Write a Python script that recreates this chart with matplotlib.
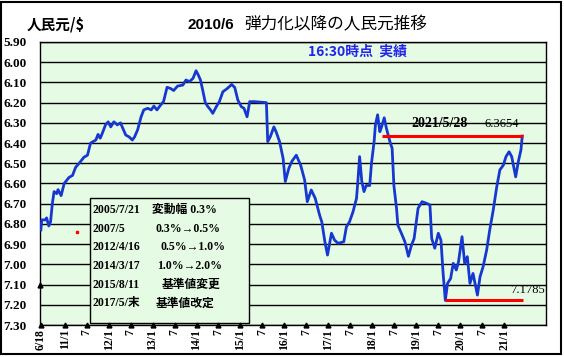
import matplotlib.pyplot as plt
from matplotlib.patches import Rectangle

# 人民元/$ rate (x = decimal year)
years = [2010.46, 2010.48, 2010.56, 2010.59, 2010.64, 2010.68, 2010.72, 2010.76, 2010.82, 2010.85,
         2010.92, 2010.99, 2011.10, 2011.18, 2011.25, 2011.33, 2011.44, 2011.52, 2011.59, 2011.71,
         2011.76, 2011.81, 2011.86, 2011.93, 2011.99, 2012.05, 2012.12, 2012.20, 2012.27, 2012.39,
         2012.47, 2012.54, 2012.59, 2012.66, 2012.74, 2012.80, 2012.89, 2012.97, 2013.03, 2013.10,
         2013.19, 2013.25, 2013.33, 2013.41, 2013.48, 2013.57, 2013.69, 2013.76, 2013.84, 2013.92,
         2013.99, 2014.04, 2014.09, 2014.14, 2014.20, 2014.26, 2014.32, 2014.37, 2014.45, 2014.52,
         2014.60, 2014.70, 2014.80, 2014.87, 2014.94, 2015.02, 2015.08, 2015.15, 2015.21, 2015.32,
         2015.47, 2015.59, 2015.62, 2015.68, 2015.76, 2015.81, 2015.89, 2015.97, 2016.02, 2016.10,
         2016.17, 2016.27, 2016.37, 2016.46, 2016.52, 2016.61, 2016.70, 2016.80, 2016.85, 2016.92,
         2016.98, 2017.07, 2017.14, 2017.22, 2017.35, 2017.41, 2017.48, 2017.56, 2017.64, 2017.67,
         2017.71, 2017.76, 2017.81, 2017.86, 2017.94, 2017.98, 2018.04, 2018.07, 2018.12, 2018.17,
         2018.21, 2018.27, 2018.32, 2018.40, 2018.45, 2018.49, 2018.55, 2018.58, 2018.66, 2018.74,
         2018.82, 2018.89, 2018.95, 2019.04, 2019.13, 2019.23, 2019.31, 2019.35, 2019.42, 2019.50,
         2019.56, 2019.61, 2019.66, 2019.71, 2019.78, 2019.84, 2019.91, 2019.96, 2020.04, 2020.10,
         2020.16, 2020.22, 2020.29, 2020.39, 2020.45, 2020.52, 2020.60, 2020.67, 2020.75, 2020.83,
         2020.90, 2020.98, 2021.04, 2021.11, 2021.17, 2021.26, 2021.32, 2021.38, 2021.41]
rates = [6.83, 6.78, 6.78, 6.77, 6.81, 6.79, 6.70, 6.64, 6.65, 6.63,
         6.66, 6.60, 6.57, 6.56, 6.52, 6.50, 6.47, 6.46, 6.40, 6.385,
         6.357, 6.376, 6.35, 6.31, 6.295, 6.32, 6.295, 6.31, 6.30, 6.36,
         6.37, 6.385, 6.37, 6.335, 6.27, 6.236, 6.228, 6.236, 6.217, 6.236,
         6.21, 6.195, 6.124, 6.13, 6.14, 6.118, 6.113, 6.088, 6.096, 6.08,
         6.042, 6.063, 6.088, 6.137, 6.20, 6.22, 6.236, 6.253, 6.22, 6.195,
         6.146, 6.13, 6.11, 6.125, 6.187, 6.22, 6.228, 6.27, 6.195, 6.195,
         6.198, 6.20, 6.393, 6.368, 6.32, 6.344, 6.393, 6.476, 6.59, 6.525,
         6.49, 6.46, 6.51, 6.583, 6.69, 6.632, 6.673, 6.756, 6.79, 6.888,
         6.954, 6.846, 6.88, 6.896, 6.888, 6.814, 6.79, 6.74, 6.673, 6.59,
         6.467, 6.59, 6.64, 6.61, 6.61, 6.50, 6.393, 6.31, 6.26, 6.344,
         6.32, 6.275, 6.327, 6.393, 6.426, 6.61, 6.723, 6.806, 6.846, 6.888,
         6.96, 6.905, 6.872, 6.723, 6.69, 6.698, 6.706, 6.872, 6.92, 6.846,
         6.88, 7.045, 7.1785, 7.094, 7.07, 6.995, 7.028, 6.987, 6.863, 6.995,
         6.962, 7.094, 7.045, 7.152, 7.061, 7.011, 6.929, 6.83, 6.731, 6.616,
         6.533, 6.509, 6.467, 6.443, 6.467, 6.567, 6.492, 6.434, 6.3654]

tick_pos = [2010.46, 2011.0, 2011.5, 2012.0, 2012.5, 2013.0, 2013.5, 2014.0, 2014.5, 2015.0, 2015.5,
            2016.0, 2016.5, 2017.0, 2017.5, 2018.0, 2018.5, 2019.0, 2019.5, 2020.0, 2020.5, 2021.0]
tick_labels = ['6/18', '11/1', '7', '12/1', '7', '13/1', '7', '14/1', '7', '15/1', '7',
               '16/1', '7', '17/1', '7', '18/1', '7', '19/1', '7', '20/1', '7', '21/1']
y_ticks = [5.90, 6.00, 6.10, 6.20, 6.30, 6.40, 6.50, 6.60, 6.70, 6.80, 6.90, 7.00, 7.10, 7.20, 7.30]

latest_date = '2021/5/28'
latest_rate = 6.3654
latest_start = 2018.21
low_rate = 7.1785
low_start = 2019.66
end_year = 2021.42

box_dates = ['2005/7/21', '2007/5', '2012/4/16', '2014/3/17', '2015/8/11', '2017/5/末']
box_notes = ['変動幅 0.3%', '0.3%→0.5%', '0.5%→1.0%', '1.0%→2.0%', '基準値変更', '基準値改定']
note_x = [151.7, 155.7, 160.7, 156.7, 161.7, 155.7]

bg = '#e6fbe4'
serif = ['Liberation Serif', 'Noto Sans CJK JP']
W, H = 564, 357

fig = plt.figure(figsize=(5.64, 3.57), dpi=100)
ax = fig.add_axes([40 / W, 32 / H, 506 / W, 283 / H])
ax.set_facecolor(bg)

ax.plot(years, rates, color='#1638d0', lw=2.0, zorder=4)
ax.hlines(latest_rate, latest_start, end_year, color='red', lw=2.2, zorder=5)
ax.hlines(low_rate, low_start, end_year, color='red', lw=2.2, zorder=5)

ax.set_xlim(2010.44, 2021.95)
ax.set_ylim(7.30, 5.90)
ax.set_yticks(y_ticks)
ax.set_yticklabels(['%.2f' % v for v in y_ticks], family='Liberation Serif',
                   fontweight='bold', fontsize=9.5)
ax.set_xticks(tick_pos)
ax.set_xticklabels(tick_labels, rotation=90, family='Liberation Serif',
                   fontweight='bold', fontsize=8.5)
ax.tick_params(axis='y', length=0, pad=9.5)
ax.tick_params(axis='x', length=0, pad=3)
ax.grid(axis='y', color='black', lw=1)
ax.set_axisbelow(True)
for s in ax.spines.values():
    s.set_color('black')
    s.set_linewidth(1)

# triangle markers on the bottom axis
ax.plot(tick_pos, [7.30] * len(tick_pos), '^', color='black', ms=3.5, clip_on=False, zorder=6)
ax.plot([2010.44], [7.10], '^', color='black', ms=3.5, clip_on=False, zorder=6)
ax.plot([2011.28], [6.84], 's', color='red', ms=1.5, zorder=6)

ax.text(2019.53, 6.335, latest_date, family='Liberation Serif', fontweight='bold',
        fontsize=10, ha='center', va='bottom', zorder=6)
ax.text(2020.95, 6.335, '%.4f' % latest_rate, family='Liberation Serif',
        fontsize=9, ha='center', va='bottom', zorder=6)
ax.text(2021.52, 7.125, '%.4f' % low_rate, family='Liberation Serif',
        fontsize=9, ha='center', va='center', zorder=6)

# note box
ax.add_patch(Rectangle((49.7 / 506, 1.7 / 283), 159.6 / 506, 125 / 283,
                       transform=ax.transAxes, fc=bg, ec='black', lw=1, zorder=5))
line_y = [210, 229, 247.3, 266, 285, 303.3]
for d, n, nx, py in zip(box_dates, box_notes, note_x, line_y):
    fig.text(92.3 / W, 1 - py / H, d, family=serif, fontweight='bold', fontsize=8.5,
             va='center', zorder=7)
    fig.text(nx / W, 1 - py / H, n, family=serif, fontweight='bold', fontsize=8.5,
             va='center', zorder=7)

# titles
fig.text(27 / W, 1 - 25 / H, '人民元/$', family=['Noto Sans CJK JP', 'DejaVu Sans'],
         fontweight='bold', fontsize=10.5, va='center')
fig.text(188 / W, 1 - 25 / H, '2010/6', family='Liberation Sans', fontweight='bold',
         fontsize=11, va='center')
fig.text(244 / W, 1 - 25 / H, '弾力化以降の人民元推移', family='Noto Sans CJK JP',
         fontsize=12, va='center')
fig.text(358 / W, 1 - 52 / H, '16:30時点  実績', family=['Noto Sans CJK JP', 'DejaVu Sans'],
         fontweight='bold', fontsize=10, color='#2222ee', ha='center', va='center')

# outer frame
fig.patches.append(Rectangle((1 / W, 3 / H), 560 / W, 352 / H, transform=fig.transFigure,
                             fill=False, ec='black', lw=1.5))

fig.savefig('out.png', dpi=100)
